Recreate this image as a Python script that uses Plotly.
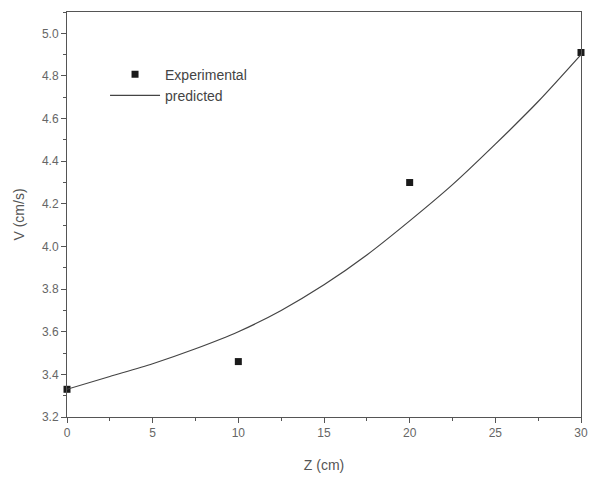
import plotly.graph_objects as go

# Experimental data
z_exp = [0, 10, 20, 30]
v_exp = [3.33, 3.46, 4.30, 4.91]

# Predicted curve
z_pred = [0, 2.5, 5, 7.5, 10, 12.5, 15, 17.5, 20, 22.5, 25, 27.5, 30]
v_pred = [3.33, 3.39, 3.45, 3.52, 3.60, 3.70, 3.82, 3.96, 4.12, 4.29, 4.48, 4.68, 4.90]

x_ticks = [0, 5, 10, 15, 20, 25, 30]
y_ticks = [3.2, 3.4, 3.6, 3.8, 4.0, 4.2, 4.4, 4.6, 4.8, 5.0]

fig = go.Figure()
fig.add_trace(go.Scatter(
    x=z_exp, y=v_exp, mode="markers", name="Experimental",
    marker=dict(symbol="square", size=7, color="#1a1a1a"),
    cliponaxis=False,
))
fig.add_trace(go.Scatter(
    x=z_pred, y=v_pred, mode="lines", name="predicted",
    line=dict(color="#444444", width=1.2, shape="spline", smoothing=0.8),
))

axis_font = dict(family="Liberation Sans, Arial, sans-serif", size=12, color="#666666")
fig.update_layout(
    width=589, height=484,
    margin=dict(l=67, r=8, t=12, b=67),
    paper_bgcolor="white", plot_bgcolor="white",
    font=dict(family="Liberation Sans, Arial, sans-serif", color="#444444"),
    showlegend=True,
    legend=dict(x=0.074, y=0.885, xanchor="left", yanchor="top",
                bgcolor="rgba(0,0,0,0)", font=dict(size=14, color="#444444"),
                tracegroupgap=0, itemwidth=50),
    xaxis=dict(
        range=[0, 30], tickvals=x_ticks, ticktext=[str(t) for t in x_ticks],
        showgrid=False, zeroline=False, automargin=False,
        ticklabeloverflow="allow",
        showline=True, linecolor="#555555", linewidth=1, mirror=True,
        ticks="outside", ticklen=5, tickcolor="#555555",
        minor=dict(ticks="outside", ticklen=3, dtick=2.5, tickcolor="#555555"),
        tickfont=axis_font,
        title=dict(text="Z (cm)", font=dict(size=14, color="#555555"), standoff=20),
    ),
    yaxis=dict(
        range=[3.2, 5.1], tickvals=y_ticks, ticktext=[f"{t:.1f}" for t in y_ticks],
        showgrid=False, zeroline=False, automargin=False,
        showline=True, linecolor="#555555", linewidth=1, mirror=True,
        ticks="outside", ticklen=5, tickcolor="#555555",
        minor=dict(ticks="outside", ticklen=3, dtick=0.1, tickcolor="#555555"),
        tickfont=axis_font,
        title=dict(text="V (cm/s)", font=dict(size=14, color="#555555"), standoff=14),
    ),
)

fig.write_html("out.html", config={"displayModeBar": False},
               post_script="document.body.style.margin='0';document.body.style.overflow='hidden';")
